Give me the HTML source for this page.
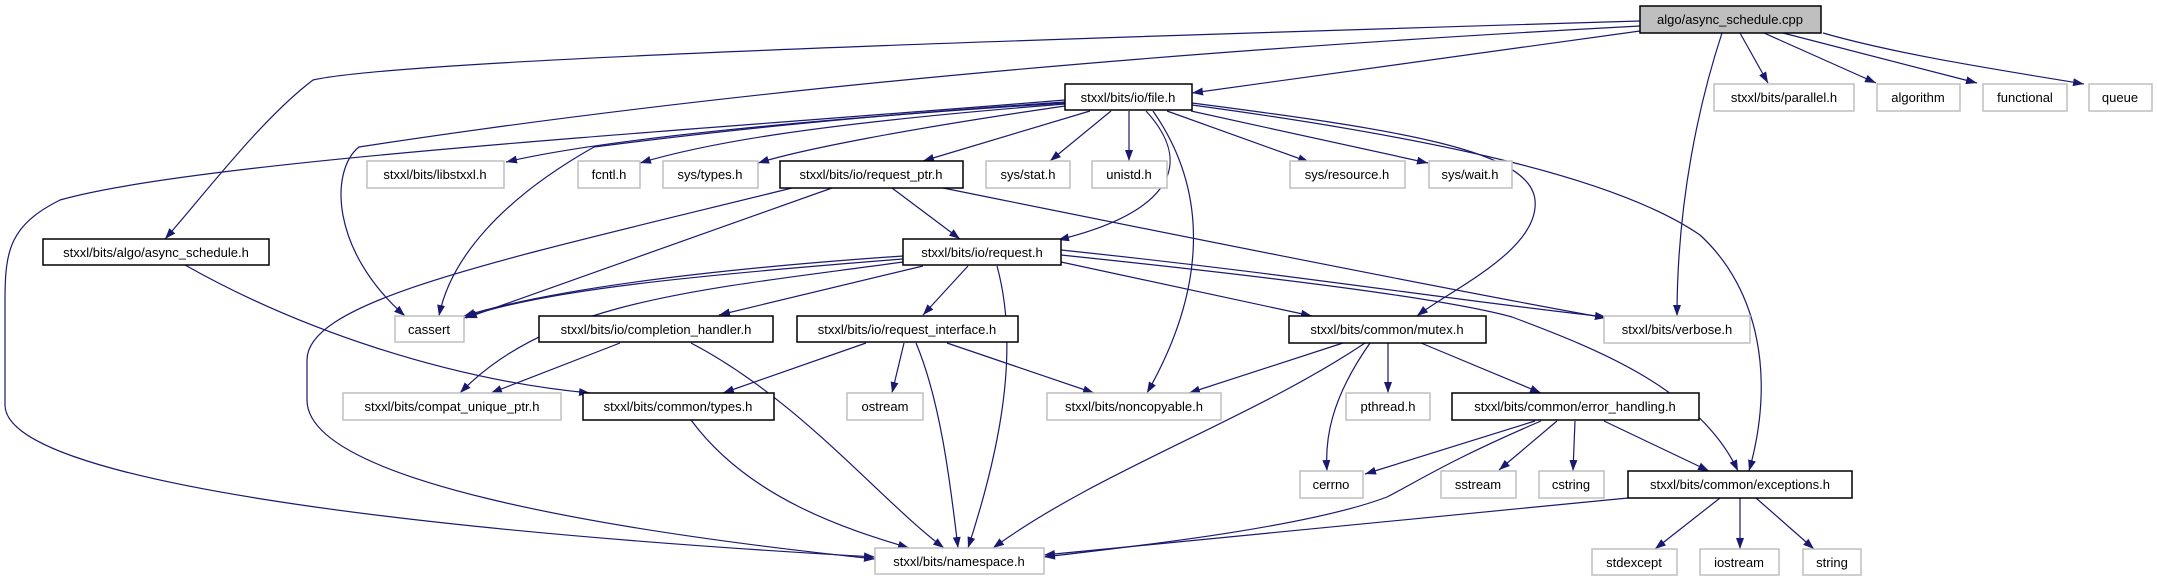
<!DOCTYPE html>
<html><head><meta charset="utf-8"><style>
html,body{margin:0;padding:0;background:#fff;}
svg{display:block}
text{font-family:"Liberation Sans",sans-serif;font-size:13px;fill:#000}
</style></head><body>
<svg width="2157" height="581" viewBox="0 0 2157 581" xmlns="http://www.w3.org/2000/svg">
<defs>
<marker id="a" markerWidth="11" markerHeight="8" refX="11" refY="4" orient="auto" markerUnits="userSpaceOnUse">
<path d="M0,0 L11,4 L0,8 z" fill="#191970"/>
</marker>
</defs>
<g fill="none" stroke="#191970" stroke-width="1.2" marker-end="url(#a)">
<!-- cpp -->
<path d="M1640,31 L1192,93"/>
<path d="M1640,21 C1000,40 400,60 313,80 C260,120 200,200 165,239"/>
<path d="M1640,26 C1000,60 600,110 359,147 C330,170 330,250 405,316"/>
<path d="M1740,33 L1768,83"/>
<path d="M1764,33 L1876,83"/>
<path d="M1783,33 L1977,83"/>
<path d="M1823,33 C1900,55 2000,70 2084,84"/>
<path d="M1722,33 C1700,100 1677,200 1677,316"/>
<!-- file -->
<path d="M1065,103 C800,120 600,140 506,162"/>
<path d="M1065,104 C800,125 700,145 640,163"/>
<path d="M1065,106 C900,130 800,150 758,163"/>
<path d="M1090,111 L923,161"/>
<path d="M1111,111 L1050,161"/>
<path d="M1129,111 L1129,161"/>
<path d="M1167,111 L1309,162"/>
<path d="M1191,111 L1428,163"/>
<path d="M1065,100 C700,130 200,160 60,200 C10,225 5,250 5,300 L5,405 C5,480 400,530 875,557"/>
<path d="M1065,102 C800,120 650,140 594,147 C500,200 450,260 439,316"/>
<path d="M1146,111 C1200,170 1160,215 1058,240"/>
<path d="M1153,111 C1215,200 1200,300 1147,393"/>
<path d="M1192,103 C1400,130 1530,150 1535,200 C1540,250 1450,290 1417,316"/>
<path d="M1192,105 C1450,140 1620,180 1700,235 C1760,290 1775,380 1749,471"/>
<!-- reqptr -->
<path d="M892,188 L960,239"/>
<path d="M832,188 L466,318"/>
<path d="M792,188 C500,260 307,300 307,360 L307,400 C307,480 600,530 875,559"/>
<path d="M943,188 C1200,240 1450,290 1606,318"/>
<!-- asyncH -->
<path d="M185,265 C300,330 450,380 590,393"/>
<!-- request -->
<path d="M903,256 C700,270 550,290 464,316"/>
<path d="M903,259 C700,275 540,290 464,318"/>
<path d="M903,262 C700,290 550,300 460,393"/>
<path d="M923,266 L719,315"/>
<path d="M968,266 L923,315"/>
<path d="M997,266 C1020,350 1000,450 968,548"/>
<path d="M1061,262 L1312,316"/>
<path d="M1061,250 C1300,275 1450,300 1606,317"/>
<path d="M1061,255 C1300,280 1450,300 1512,317 C1600,350 1700,390 1738,471"/>
<!-- completion -->
<path d="M620,343 L491,393"/>
<path d="M691,343 C800,400 880,500 944,548"/>
<!-- reqintf -->
<path d="M866,343 L723,393"/>
<path d="M904,343 L892,393"/>
<path d="M916,343 C940,400 950,480 958,548"/>
<path d="M947,343 L1094,393"/>
<!-- types -->
<path d="M691,420 C750,500 850,530 909,548"/>
<!-- mutex -->
<path d="M1343,343 L1189,393"/>
<path d="M1365,343 C1250,420 1100,470 993,548"/>
<path d="M1370,343 C1330,400 1325,440 1327,471"/>
<path d="M1388,343 L1388,393"/>
<path d="M1421,343 L1541,393"/>
<!-- errh -->
<path d="M1535,421 L1365,474"/>
<path d="M1541,421 C1450,460 1420,480 1387,497 C1300,530 1100,550 1044,557"/>
<path d="M1557,421 L1499,470"/>
<path d="M1575,421 L1573,471"/>
<path d="M1604,421 L1709,471"/>
<!-- exceptions -->
<path d="M1628,498 L1044,555"/>
<path d="M1720,498 L1655,549"/>
<path d="M1740,498 L1740,549"/>
<path d="M1756,498 L1814,549"/>
</g>
<g stroke-width="1.5">
<rect x="1640" y="6" width="181" height="27" fill="#bfbfbf" stroke="#000"/>
<rect x="1065" y="84" width="127" height="26" fill="#fff" stroke="#000"/>
<rect x="43" y="239" width="226" height="26" fill="#fff" stroke="#000"/>
<rect x="780" y="161" width="183" height="27" fill="#fff" stroke="#000"/>
<rect x="903" y="239" width="158" height="26" fill="#fff" stroke="#000"/>
<rect x="539" y="316" width="234" height="26" fill="#fff" stroke="#000"/>
<rect x="797" y="316" width="221" height="26" fill="#fff" stroke="#000"/>
<rect x="1289" y="316" width="197" height="27" fill="#fff" stroke="#000"/>
<rect x="583" y="393" width="191" height="27" fill="#fff" stroke="#000"/>
<rect x="1452" y="393" width="247" height="27" fill="#fff" stroke="#000"/>
<rect x="1628" y="471" width="224" height="27" fill="#fff" stroke="#000"/>
</g>
<g fill="#fff" stroke="#bfbfbf" stroke-width="1.5">
<rect x="1714" y="84" width="140" height="27"/>
<rect x="1877" y="84" width="83" height="27"/>
<rect x="1983" y="84" width="84" height="27"/>
<rect x="2089" y="84" width="63" height="27"/>
<rect x="367" y="161" width="137" height="27"/>
<rect x="578" y="161" width="62" height="27"/>
<rect x="663" y="161" width="95" height="27"/>
<rect x="986" y="161" width="84" height="27"/>
<rect x="1092" y="161" width="75" height="27"/>
<rect x="1290" y="161" width="115" height="27"/>
<rect x="1429" y="161" width="83" height="27"/>
<rect x="395" y="316" width="69" height="26"/>
<rect x="1604" y="316" width="146" height="27"/>
<rect x="343" y="393" width="218" height="27"/>
<rect x="847" y="393" width="76" height="27"/>
<rect x="1047" y="393" width="174" height="27"/>
<rect x="1346" y="393" width="84" height="27"/>
<rect x="1300" y="471" width="63" height="27"/>
<rect x="1441" y="471" width="75" height="27"/>
<rect x="1539" y="471" width="65" height="27"/>
<rect x="875" y="548" width="169" height="26"/>
<rect x="1592" y="549" width="85" height="26"/>
<rect x="1700" y="549" width="79" height="26"/>
<rect x="1803" y="549" width="58" height="26"/>
</g>
<g text-anchor="middle">
<text x="1730" y="24">algo/async_schedule.cpp</text>
<text x="1128" y="102">stxxl/bits/io/file.h</text>
<text x="156" y="257">stxxl/bits/algo/async_schedule.h</text>
<text x="871" y="179">stxxl/bits/io/request_ptr.h</text>
<text x="982" y="257">stxxl/bits/io/request.h</text>
<text x="656" y="334">stxxl/bits/io/completion_handler.h</text>
<text x="907" y="334">stxxl/bits/io/request_interface.h</text>
<text x="1387" y="334">stxxl/bits/common/mutex.h</text>
<text x="678" y="411">stxxl/bits/common/types.h</text>
<text x="1575" y="411">stxxl/bits/common/error_handling.h</text>
<text x="1740" y="489">stxxl/bits/common/exceptions.h</text>
<text x="1784" y="102">stxxl/bits/parallel.h</text>
<text x="1918" y="102">algorithm</text>
<text x="2025" y="102">functional</text>
<text x="2120" y="102">queue</text>
<text x="435" y="179">stxxl/bits/libstxxl.h</text>
<text x="609" y="179">fcntl.h</text>
<text x="710" y="179">sys/types.h</text>
<text x="1028" y="179">sys/stat.h</text>
<text x="1129" y="179">unistd.h</text>
<text x="1347" y="179">sys/resource.h</text>
<text x="1470" y="179">sys/wait.h</text>
<text x="429" y="334">cassert</text>
<text x="1677" y="334">stxxl/bits/verbose.h</text>
<text x="452" y="411">stxxl/bits/compat_unique_ptr.h</text>
<text x="885" y="411">ostream</text>
<text x="1134" y="411">stxxl/bits/noncopyable.h</text>
<text x="1388" y="411">pthread.h</text>
<text x="1331" y="489">cerrno</text>
<text x="1478" y="489">sstream</text>
<text x="1571" y="489">cstring</text>
<text x="959" y="566">stxxl/bits/namespace.h</text>
<text x="1634" y="567">stdexcept</text>
<text x="1739" y="567">iostream</text>
<text x="1832" y="567">string</text>
</g>
</svg>
</body></html>
